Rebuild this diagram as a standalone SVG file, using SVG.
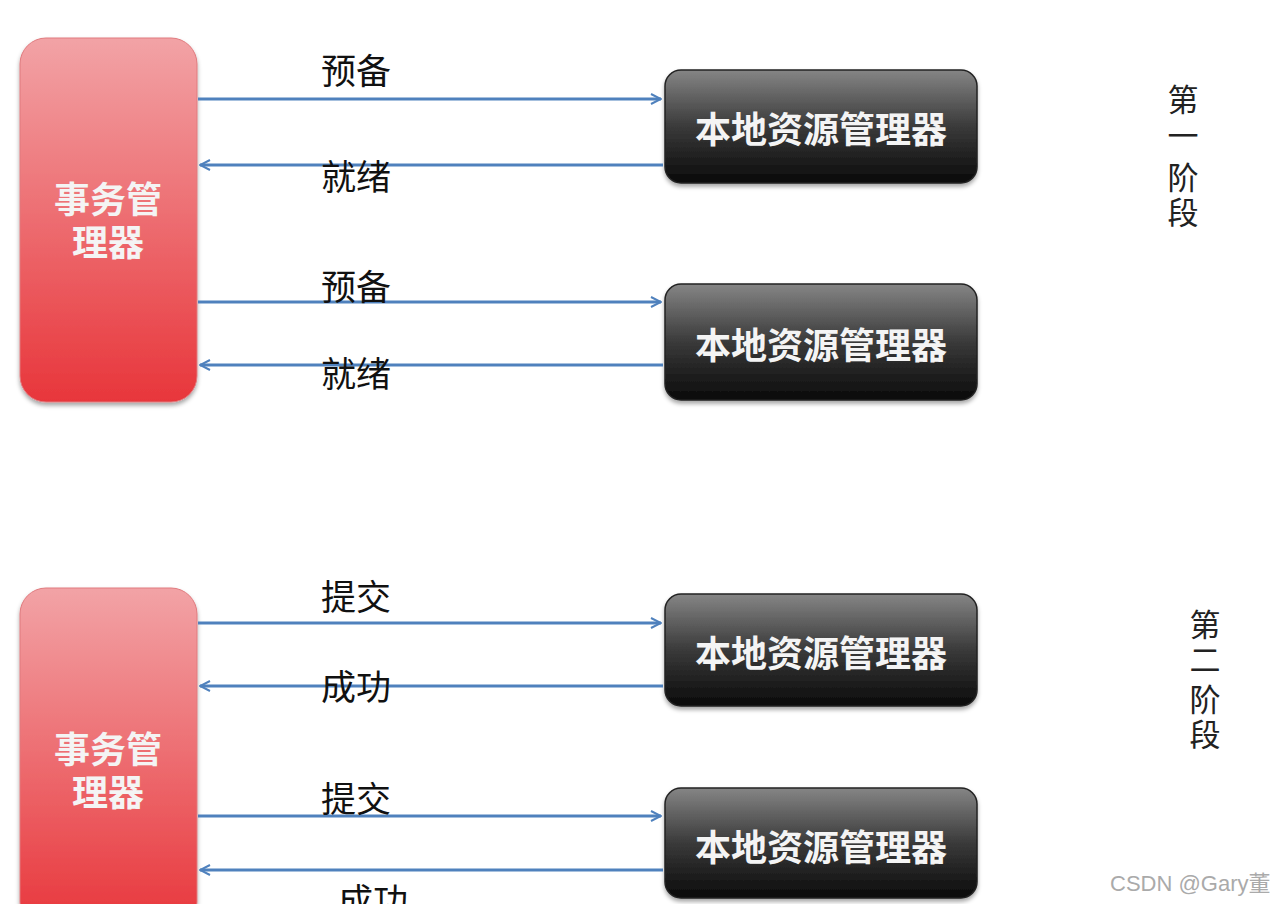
<svg xmlns="http://www.w3.org/2000/svg" width="1276" height="904" viewBox="0 0 1276 904">
<defs>
<linearGradient id="red" x1="0" y1="0" x2="0" y2="1">
<stop offset="0" stop-color="#f2a3a6"/>
<stop offset="1" stop-color="#e8363b"/>
</linearGradient>
<linearGradient id="dark" x1="0" y1="0" x2="0" y2="1">
<stop offset="0" stop-color="#858585"/>
<stop offset="0.5" stop-color="#3a3a3a"/>
<stop offset="1" stop-color="#0a0a0a"/>
</linearGradient>
<marker id="ah" viewBox="0 0 12 12" refX="11" refY="6" markerWidth="12" markerHeight="12" markerUnits="userSpaceOnUse" orient="auto">
<path d="M1,1 L11,6 L1,11" fill="none" stroke="#4f81bd" stroke-width="2"/>
</marker>
<filter id="sh" x="-10%" y="-10%" width="120%" height="130%">
<feDropShadow dx="0" dy="3" stdDeviation="2" flood-color="#000" flood-opacity="0.35"/>
</filter>
</defs>
<style>
.tm{fill:url(#red);stroke:#e07a7e;stroke-width:1;filter:url(#sh)}
.rm{fill:url(#dark);stroke:#222;stroke-width:1.5;filter:url(#sh)}
.wt{font-family:"Noto Sans CJK SC","Liberation Sans",sans-serif;fill:#f4f4f4;font-size:36px;font-weight:bold;text-anchor:middle}
.lb{font-family:"Noto Sans CJK SC","Liberation Sans",sans-serif;fill:#111;font-size:35px}
.ph{font-family:"Noto Sans CJK SC","Liberation Sans",sans-serif;fill:#222;font-size:31px;text-anchor:middle}
.ln{stroke:#4f81bd;stroke-width:3;fill:none;marker-end:url(#ah)}
.wm{font-family:"Liberation Sans",sans-serif;fill:#aaa;font-size:22px}
</style>
<rect width="1276" height="904" fill="#fff"/>
<g id="tm1">
<rect class="tm" x="20" y="38" width="177" height="364" rx="26"/>
<text class="wt" x="108" y="213">事务管</text>
<text class="wt" x="108" y="256">理器</text>
</g>
<g id="rm1">
<rect class="rm" x="665" y="70" width="312" height="113" rx="16"/>
<text class="wt" x="821" y="143">本地资源管理器</text>
</g>
<g id="rm2">
<rect class="rm" x="665" y="284" width="312" height="116" rx="16"/>
<text class="wt" x="821" y="359">本地资源管理器</text>
</g>
<g id="tm2">
<rect class="tm" x="20" y="588" width="177" height="340" rx="26"/>
<text class="wt" x="108" y="763">事务管</text>
<text class="wt" x="108" y="806">理器</text>
</g>
<g id="rm3">
<rect class="rm" x="665" y="594" width="312" height="112" rx="16"/>
<text class="wt" x="821" y="667">本地资源管理器</text>
</g>
<g id="rm4">
<rect class="rm" x="665" y="788" width="312" height="110" rx="16"/>
<text class="wt" x="821" y="861">本地资源管理器</text>
</g>
<g id="connectors">
<line class="ln" x1="198" y1="99" x2="661" y2="99"/>
<line class="ln" x1="663" y1="165" x2="200" y2="165"/>
<line class="ln" x1="198" y1="302" x2="661" y2="302"/>
<line class="ln" x1="663" y1="365" x2="200" y2="365"/>
<line class="ln" x1="198" y1="623" x2="661" y2="623"/>
<line class="ln" x1="663" y1="686" x2="200" y2="686"/>
<line class="ln" x1="198" y1="816" x2="661" y2="816"/>
<line class="ln" x1="663" y1="870" x2="200" y2="870"/>
</g>
<g id="labels">
<text class="lb" x="321" y="84">预备</text>
<text class="lb" x="321" y="190">就绪</text>
<text class="lb" x="321" y="300">预备</text>
<text class="lb" x="321" y="387">就绪</text>
<text class="lb" x="321" y="610">提交</text>
<text class="lb" x="321" y="700">成功</text>
<text class="lb" x="321" y="812">提交</text>
<text class="lb" x="338" y="914">成功</text>
</g>
<g id="phase1">
<text class="ph"><tspan x="1183" y="111">第</tspan><tspan x="1183" y="147">一</tspan><tspan x="1183" y="189">阶</tspan><tspan x="1183" y="224">段</tspan></text>
</g>
<g id="phase2">
<text class="ph"><tspan x="1205" y="636">第</tspan><tspan x="1205" y="671">二</tspan><tspan x="1205" y="711">阶</tspan><tspan x="1205" y="746">段</tspan></text>
</g>
<text class="wm" x="1110" y="891">CSDN @Gary<tspan font-family="Noto Sans CJK SC, sans-serif">董</tspan></text>
</svg>
